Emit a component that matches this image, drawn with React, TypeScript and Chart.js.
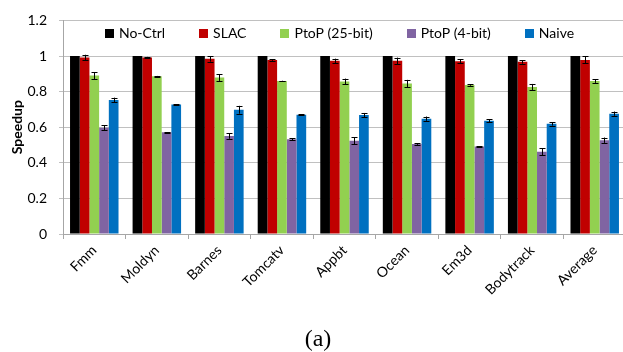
import React, { useEffect, useRef } from "react";
import { Chart, registerables } from "chart.js";

Chart.register(...registerables);

const categories = ["Fmm", "Moldyn", "Barnes", "Tomcatv", "Appbt", "Ocean", "Em3d", "Bodytrack", "Average"];
const seriesNames = ["No-Ctrl", "SLAC", "PtoP (25-bit)", "PtoP (4-bit)", "Naive"];
const seriesColors = ["#000000", "#c00000", "#92d050", "#8064a2", "#0070c0"];

const noCtrl = [1, 1, 1, 1, 1, 1, 1, 1, 1];
const noCtrlErr = [0, 0, 0, 0, 0, 0, 0, 0, 0];
const slac = [0.991, 0.991, 0.984, 0.978, 0.973, 0.973, 0.971, 0.967, 0.978];
const slacErr = [0.016, 0.004, 0.016, 0.005, 0.012, 0.018, 0.01, 0.01, 0.02];
const ptop25 = [0.89, 0.886, 0.879, 0.859, 0.857, 0.846, 0.837, 0.826, 0.859];
const ptop25Err = [0.02, 0.002, 0.019, 0.002, 0.016, 0.02, 0.004, 0.017, 0.01];
const ptop4 = [0.597, 0.571, 0.551, 0.533, 0.524, 0.505, 0.491, 0.462, 0.527];
const ptop4Err = [0.015, 0.001, 0.016, 0.005, 0.02, 0.004, 0.002, 0.02, 0.015];
const naive = [0.753, 0.727, 0.698, 0.67, 0.668, 0.648, 0.636, 0.619, 0.676];
const naiveErr = [0.013, 0.003, 0.022, 0.004, 0.012, 0.012, 0.008, 0.01, 0.012];

const yMin = 0;
const yMax = 1.2;
const yStep = 0.2;
const yTitle = "Speedup";
const caption = "(a)";

const seriesValues = [noCtrl, slac, ptop25, ptop4, naive];
const seriesErrors = [noCtrlErr, slacErr, ptop25Err, ptop4Err, naiveErr];

const FONT = "Lato, 'Open Sans', sans-serif";

const errorBarPlugin = {
  id: "errorBars",
  afterDatasetsDraw(chart: any) {
    const ctx = chart.ctx;
    const yScale = chart.scales.y;
    ctx.save();
    ctx.strokeStyle = "#000000";
    ctx.lineWidth = 1;
    chart.data.datasets.forEach((ds: any, di: number) => {
      const meta = chart.getDatasetMeta(di);
      const errs = ds.errors as number[];
      meta.data.forEach((bar: any, i: number) => {
        const e = errs[i];
        if (!e) return;
        const v = ds.data[i];
        const x = Math.round(bar.x) + 0.5;
        const yTop = yScale.getPixelForValue(v + e);
        const yBot = yScale.getPixelForValue(v - e);
        const cap = 3;
        ctx.beginPath();
        ctx.moveTo(x, yTop);
        ctx.lineTo(x, yBot);
        ctx.moveTo(x - cap, Math.round(yTop) + 0.5);
        ctx.lineTo(x + cap, Math.round(yTop) + 0.5);
        ctx.moveTo(x - cap, Math.round(yBot) + 0.5);
        ctx.lineTo(x + cap, Math.round(yBot) + 0.5);
        ctx.stroke();
      });
    });
    ctx.restore();
  },
};

const legendCaptionPlugin = {
  id: "legendCaption",
  afterDraw(chart: any) {
    const ctx = chart.ctx;
    const area = chart.chartArea;
    ctx.save();
    ctx.font = `14px ${FONT}`;
    ctx.textBaseline = "middle";
    ctx.textAlign = "left";
    const box = 9;
    const boxGap = 5;
    const itemGap = 34;
    const widths = seriesNames.map((n) => ctx.measureText(n).width);
    const total =
      widths.reduce((a, w) => a + box + boxGap + w, 0) + itemGap * (seriesNames.length - 1);
    let x = (area.left + area.right) / 2 - total / 2 - 5;
    const cy = area.top + 13;
    seriesNames.forEach((n, i) => {
      ctx.fillStyle = seriesColors[i];
      ctx.fillRect(Math.round(x), Math.round(cy - box / 2), box, box);
      ctx.fillStyle = "#000000";
      ctx.fillText(n, x + box + boxGap, cy);
      x += box + boxGap + widths[i] + itemGap;
    });

    ctx.font = "24px 'Liberation Serif', 'DejaVu Serif', serif";
    ctx.textAlign = "center";
    ctx.textBaseline = "alphabetic";
    ctx.fillStyle = "#000000";
    ctx.fillText(caption, 318, 346);
    ctx.restore();
  },
};

export default function App() {
  const canvasRef = useRef<HTMLCanvasElement | null>(null);

  useEffect(() => {
    const canvas = canvasRef.current;
    if (!canvas) return;
    const chart = new Chart(canvas, {
      type: "bar",
      data: {
        labels: categories,
        datasets: seriesNames.map((name, i) => ({
          label: name,
          data: seriesValues[i],
          errors: seriesErrors[i],
          backgroundColor: seriesColors[i],
          borderWidth: 0,
          barPercentage: 1,
          categoryPercentage: 0.775,
        })) as any,
      },
      options: {
        responsive: false,
        animation: false,
        devicePixelRatio: 1,
        layout: { padding: { left: 0, top: 15, right: 0, bottom: 0 } },
        plugins: {
          legend: { display: false },
          tooltip: { enabled: false },
        },
        scales: {
          x: {
            afterFit(scale: any) {
              scale.height = 118;
            },
            grid: {
              display: true,
              drawOnChartArea: false,
              drawTicks: true,
              tickLength: 5,
              color: "#a6a6a6",
            },
            border: { display: true, color: "#a6a6a6" },
            ticks: {
              minRotation: 45,
              maxRotation: 45,
              autoSkip: false,
              padding: 3,
              color: "#000000",
              font: { family: FONT, size: 14 },
            },
          },
          y: {
            min: yMin,
            max: yMax,
            afterFit(scale: any) {
              scale.width = 63;
            },
            grid: {
              color: "#c0c0c0",
              tickLength: 4,
              drawTicks: true,
            },
            border: { display: true, color: "#a6a6a6" },
            ticks: {
              stepSize: yStep,
              padding: 12,
              color: "#000000",
              font: { family: FONT, size: 14 },
              callback: (v: any) => String(+Number(v).toFixed(1)),
            },
            title: {
              display: true,
              text: yTitle,
              color: "#000000",
              font: { family: FONT, size: 14, weight: "bold" },
              padding: { top: 9, bottom: 0 },
            },
          },
        },
      },
      plugins: [errorBarPlugin, legendCaptionPlugin],
    });
    return () => chart.destroy();
  }, []);

  return (
    <div
      style={{
        position: "fixed",
        left: 0,
        top: 0,
        width: 623,
        height: 352,
        overflow: "hidden",
        background: "#ffffff",
      }}
    >
      <canvas ref={canvasRef} width={626} height={352} style={{ display: "block" }} />
    </div>
  );
}
